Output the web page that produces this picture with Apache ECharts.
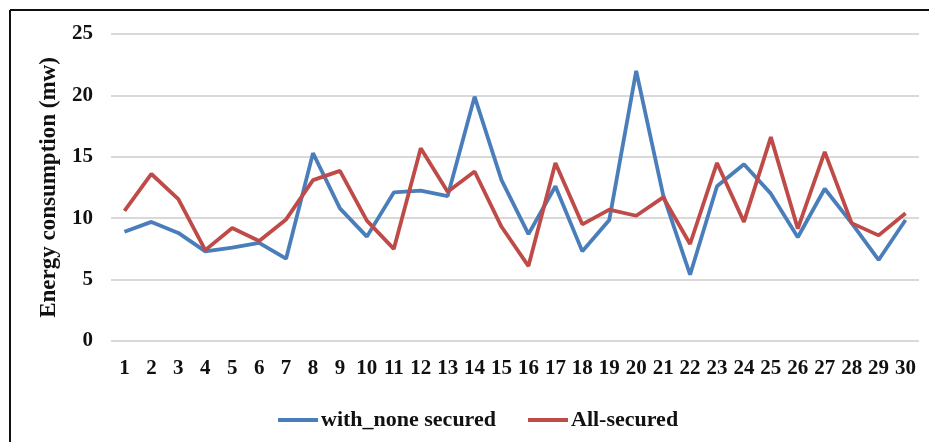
<!DOCTYPE html>
<html>
<head>
<meta charset="utf-8">
<script src="https://cdn.jsdelivr.net/npm/echarts@6/dist/echarts.min.js"></script>
<style>
html,body{margin:0;padding:0;background:#fff;}
#chart{width:929px;height:442px;}
</style>
</head>
<body>
<div id="chart"></div>
<script>
var categories = ['1','2','3','4','5','6','7','8','9','10','11','12','13','14','15','16','17','18','19','20','21','22','23','24','25','26','27','28','29','30'];
var withNoneSecured = [8.9,9.7,8.8,7.3,7.6,8.0,6.7,15.3,10.8,8.5,12.1,12.25,11.8,19.9,13.1,8.7,12.6,7.3,9.85,22.0,11.9,5.4,12.6,14.4,12.0,8.45,12.4,9.6,6.6,9.85];
var allSecured = [10.6,13.6,11.55,7.4,9.2,8.15,9.9,13.1,13.85,9.8,7.5,15.7,12.15,13.8,9.3,6.1,14.5,9.5,10.7,10.2,11.7,7.9,14.5,9.7,16.6,9.15,15.4,9.6,8.6,10.4];
var seriesNames = ['with_none secured','All-secured'];
var yTicks = {min:0, max:25, interval:5};

var font = '"Liberation Serif","Times New Roman",serif';
var chart = echarts.init(document.getElementById('chart'), null, {renderer:'canvas'});
chart.setOption({
  backgroundColor:'#ffffff',
  animation:false,
  graphic:[
    {type:'line', shape:{x1:10,y1:10,x2:929,y2:10}, style:{stroke:'#111',lineWidth:2}},
    {type:'line', shape:{x1:10,y1:10,x2:10,y2:442}, style:{stroke:'#111',lineWidth:2}}
  ],
  grid:{left:111,right:10,top:34,bottom:101,containLabel:false},
  legend:{
    left:273, top:404,
    icon:'rect', itemWidth:40, itemHeight:4, itemGap:32,
    textStyle:{fontFamily:font,fontWeight:'bold',fontSize:22,color:'#111',padding:[0,0,0,-2]},
    data:seriesNames
  },
  xAxis:{
    type:'category', data:categories, boundaryGap:true,
    axisLine:{show:false}, axisTick:{show:false},
    axisLabel:{interval:0, margin:17, fontFamily:font, fontWeight:'bold', fontSize:21, color:'#111'}
  },
  yAxis:{
    type:'value', min:yTicks.min, max:yTicks.max, interval:yTicks.interval,
    name:'Energy consumption (mw)', nameLocation:'middle', nameGap:50,
    nameTextStyle:{fontFamily:font,fontWeight:'bold',fontSize:23,color:'#111'},
    axisLine:{show:false}, axisTick:{show:false},
    axisLabel:{margin:18, fontFamily:font, fontWeight:'bold', fontSize:21, color:'#111'},
    splitLine:{lineStyle:{color:'#d9d9d9',width:2}}
  },
  series:[
    {name:seriesNames[0], type:'line', data:withNoneSecured, showSymbol:false, symbol:'none',
     lineStyle:{color:'#4a7ebb',width:3.8}, itemStyle:{color:'#4a7ebb'}},
    {name:seriesNames[1], type:'line', data:allSecured, showSymbol:false, symbol:'none',
     lineStyle:{color:'#be4b48',width:3.8}, itemStyle:{color:'#be4b48'}}
  ]
});
</script>
</body>
</html>
